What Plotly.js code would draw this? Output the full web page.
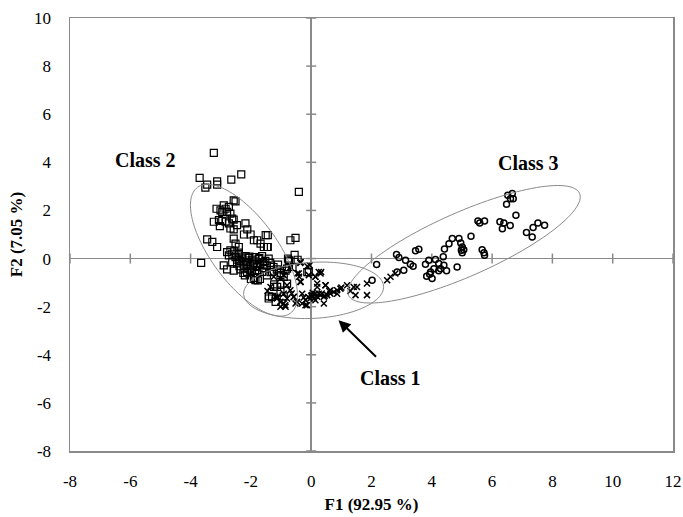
<!DOCTYPE html>
<html><head><meta charset="utf-8">
<script src="https://cdn.plot.ly/plotly-3.0.1.min.js"></script>
<style>html,body{margin:0;padding:0;background:#fff}#chart{width:683px;height:517px}</style>
</head><body><div id="chart"></div>
<script>
// Class 1 (x markers)
const class1X = [-0.69,-0.36,-0.05,-0.41,-0.36,-0.08,0.14,0.25,0.33,0.47,0.20,0.64,0.86,0.97,1.19,1.41,1.52,1.47,1.85,1.85,2.52,2.63,2.79,
 -0.91,-0.80,-1.02,-0.86,-0.58,-0.47,-0.30,-0.19,-0.14,0.03,0.09,0.20,0.31,0.42,0.53,0.64,0.75,0.86,-1.19,-1.14,-0.69,-0.80,-1.02,-0.91,-0.30,0.14,0.25,-0.03,0.14,
 -0.35,-0.13,-0.46,-0.40,-0.35,0.14,0.31,0.48,0.20,-0.91,-0.58,-0.52,-0.19,0.03,0.42,-2.07,-1.96,-1.24,-1.35,-1.13,-1.02,-0.85,
 0.00,0.10,-0.10,0.35,0.60,1.00,1.30,-0.25,0.05,0.45,-0.65,-1.45];
const class1Y = [-0.35,-0.18,-0.28,-0.62,-0.97,-0.69,-0.76,-0.56,-0.56,-1.11,-1.04,-1.32,-1.32,-1.25,-1.11,-1.18,-1.18,-1.52,-1.52,-1.04,-0.90,-0.76,-0.62,
 -1.46,-1.66,-1.80,-1.94,-1.59,-1.80,-1.87,-1.73,-1.94,-1.52,-1.66,-1.59,-1.52,-1.59,-1.52,-1.46,-1.39,-1.46,-1.59,-1.66,-1.32,-1.11,-0.83,-0.69,-1.46,-1.46,-1.46,-1.66,-1.73,
 -0.14,-0.32,-0.62,-0.76,-0.97,-0.76,-0.62,-1.11,-1.18,-1.87,-1.60,-1.87,-1.94,-1.60,-1.87,-0.69,-0.56,-0.76,-1.18,-1.60,-2.00,-2.00,
 -1.55,-1.50,-1.60,-1.45,-1.35,-1.20,-1.35,-1.62,-1.42,-1.55,-1.45,-1.35];
// Class 2 (squares)
const class2X = [-3.23,-3.70,-3.51,-3.45,-3.12,-3.12,-2.65,-2.32,-0.41,-3.65,
 -3.14,-3.01,-2.90,-2.84,-2.73,-2.57,-2.51,-2.95,-2.79,-2.68,-2.62,-2.57,-3.23,-3.06,-3.03,-2.95,-2.84,-2.73,-2.68,-2.57,-2.46,
 -2.18,-2.12,-2.23,-2.01,-1.90,-1.79,-1.51,-1.44,-1.68,-1.57,-1.44,-0.69,-0.52,-3.45,-3.28,-3.12,-2.57,-2.51,-2.40,-2.68,-2.79,
 -2.73,-2.62,-2.51,-2.40,-2.29,-2.18,-2.07,-1.96,-1.85,-1.74,-1.63,-1.52,-1.41,-2.62,-2.46,-2.35,-2.24,-2.13,-2.02,-1.91,-1.80,-1.69,-1.58,-1.47,-1.36,-1.25,-2.79,-2.57,-2.35,-2.13,-1.96,-1.80,-1.63,-1.47,-1.30,-1.14,-2.90,-2.20,-1.90,-2.00,-1.70,-1.10,-1.00,-0.85,-0.73,-0.62,-0.55,-0.45,
 -1.35,-1.77,-1.02,-0.91,-0.80,-0.74,-0.77,-1.23,-1.13,-1.02,-0.80,-1.40,-1.18,-0.91,-1.02,-0.13,
 -1.85,-1.46,-1.23,-1.41,-0.74,-0.08,-1.30,
 -2.45,-2.30,-2.15,-2.05,-1.88,-1.72,-1.55,-2.38,-2.22,-2.08,-1.92,-1.75,-1.60,-2.55,-2.40,-2.25];
const class2Y = [4.39,3.35,2.95,3.07,3.21,3.07,3.28,3.50,2.77,-0.18,
 2.07,2.00,2.21,2.07,2.15,2.42,2.38,1.94,1.94,1.87,1.66,1.62,1.53,1.60,1.35,1.57,1.53,1.46,1.25,1.21,1.39,
 1.46,1.21,1.00,1.00,0.76,0.76,0.97,0.97,0.62,0.48,0.48,0.76,0.86,0.80,0.69,0.48,0.83,0.62,0.48,0.34,0.27,
 0.13,0.20,0.06,0.13,0.00,0.10,0.03,-0.05,0.06,-0.02,0.10,-0.10,0.00,-0.15,-0.20,-0.10,-0.25,-0.15,-0.30,-0.20,-0.35,-0.22,-0.40,-0.30,-0.18,-0.35,-0.45,-0.50,-0.45,-0.55,-0.50,-0.60,-0.55,-0.70,-0.55,-0.45,-0.28,-0.70,-0.80,-0.85,-0.85,-0.25,-0.60,-0.50,-0.10,-0.35,0.15,-0.05,
 -0.56,-0.91,-0.69,-0.76,-0.42,-0.07,0.00,-1.07,-1.18,-1.04,-1.04,-1.57,-1.80,-1.57,-1.39,-0.56,
 -0.90,0.48,-1.18,-1.66,-0.35,-0.56,-1.59,
 -0.05,0.05,-0.08,0.08,-0.12,0.02,-0.25,-0.32,-0.38,-0.42,-0.28,-0.48,-0.15,0.30,0.25,-0.60];
// Class 3 (circles)
const class3X = [2.17,2.02,2.83,2.91,3.07,2.85,3.13,3.29,3.38,3.46,3.57,3.79,3.90,3.83,3.93,4.01,3.96,4.07,4.12,4.23,
 4.29,4.38,4.40,4.23,4.49,4.42,4.57,4.68,4.84,4.90,4.96,5.01,4.98,5.06,5.01,5.30,5.67,5.73,5.75,5.53,
 5.59,5.75,6.26,6.39,6.34,6.60,6.79,6.48,6.52,6.67,6.70,6.61,7.14,7.33,7.36,7.52,7.74];
const class3Y = [-0.25,-0.90,0.17,0.04,-0.49,-0.56,-0.07,-0.24,-0.32,0.32,0.39,-0.24,-0.07,-0.74,-0.65,-0.83,-0.56,-0.42,-0.04,-0.21,
 -0.42,0.07,-0.28,-0.51,-0.51,0.40,0.62,0.83,-0.35,0.83,0.65,0.48,0.35,0.37,0.24,0.93,0.37,0.24,0.14,1.56,
 1.48,1.56,1.53,1.48,1.24,1.37,1.80,2.26,2.63,2.70,2.49,2.49,1.08,0.90,1.29,1.48,1.38];

// Ellipses (center, semi-axis vectors, data units)
const ellNames = ["Class 1","Class 2","Class 3"];
const ellCx = [0.08,-2.23,5.07];
const ellCy = [-1.32,0.345,0.594];
const ellUx = [2.32,1.542,3.83];
const ellUy = [0.166,-2.616,2.118];
const ellVx = [0.053,0.879,0.428];
const ellVy = [-1.163,0.814,-1.217];

const xTicks = [-8,-6,-4,-2,0,2,4,6,8,10,12];
const yTicks = [-8,-6,-4,-2,0,2,4,6,8,10];

const labelText = ["Class 2","Class 3","Class 1"];
const labelX = [-5.5,7.2,2.63];
const labelY = [4.08,3.96,-4.97];

const gray = '#8a8a8a';
const mk = (sym, size, w) => ({symbol: sym, size: size, color: '#000', line: {color: '#000', width: w}});

const traces = [
  {x: class2X, y: class2Y, type: 'scatter', mode: 'markers', name: 'Class 2', marker: mk('square-open', 7, 1.2)},
  {x: class1X, y: class1Y, type: 'scatter', mode: 'markers', name: 'Class 1', marker: mk('x-thin-open', 6, 1.5)},
  {x: class3X, y: class3Y, type: 'scatter', mode: 'markers', name: 'Class 3', marker: mk('circle-open', 6, 1.5)}
];

const shapes = [];
for (let i = 0; i < ellCx.length; i++) {
  let p = '';
  for (let k = 0; k <= 120; k++) {
    const t = 2 * Math.PI * k / 120;
    const px = ellCx[i] + Math.cos(t) * ellUx[i] + Math.sin(t) * ellVx[i];
    const py = ellCy[i] + Math.cos(t) * ellUy[i] + Math.sin(t) * ellVy[i];
    p += (k === 0 ? 'M' : 'L') + px.toFixed(4) + ',' + py.toFixed(4);
  }
  shapes.push({type: 'path', xref: 'x', yref: 'y', path: p + 'Z', line: {color: gray, width: 1}, layer: 'above'});
}
xTicks.forEach(v => shapes.push({type: 'line', xref: 'x', yref: 'y', x0: v, x1: v, ysizemode: 'pixel', yanchor: 0, y0: -5, y1: 5, line: {color: gray, width: 1.5}, layer: 'below'}));
yTicks.forEach(v => shapes.push({type: 'line', yref: 'y', xref: 'x', y0: v, y1: v, xsizemode: 'pixel', xanchor: 0, x0: -5, x1: 5, line: {color: gray, width: 1.5}, layer: 'below'}));

const annotations = labelText.map((t, i) => ({x: labelX[i], y: labelY[i], xref: 'x', yref: 'y', text: '<b>' + t + '</b>', showarrow: false, font: {family: 'Liberation Serif', size: 20, color: '#000'}}));
annotations.push({x: 0.905, y: -2.56, ax: 2.2, ay: -4.14, axref: 'x', ayref: 'y', xref: 'x', yref: 'y', text: '', showarrow: true, arrowhead: 2, arrowsize: 1.2, arrowwidth: 2, arrowcolor: '#000'});

const layout = {
  width: 683, height: 517,
  margin: {l: 70, r: 10, t: 18, b: 66},
  paper_bgcolor: '#fff', plot_bgcolor: '#fff',
  showlegend: false,
  font: {family: 'Liberation Serif', size: 17, color: '#000'},
  xaxis: {range: [-8, 12], tickvals: xTicks, ticktext: xTicks.map(String), showgrid: false, zeroline: true, zerolinecolor: gray, zerolinewidth: 1.5,
          showline: true, mirror: true, linecolor: gray, linewidth: 1.5, ticks: '', ticklabelstandoff: 14,
          tickfont: {family: 'Liberation Serif', size: 17, color: '#000'},
          title: {text: '<b>F1 (92.95 %)</b>', font: {family: 'Liberation Serif', size: 17}, standoff: 8}},
  yaxis: {range: [-8, 10], tickvals: yTicks, ticktext: yTicks.map(String), showgrid: false, zeroline: true, zerolinecolor: gray, zerolinewidth: 1.5,
          showline: true, mirror: true, linecolor: gray, linewidth: 1.5, ticks: '', ticklabelstandoff: 14,
          tickfont: {family: 'Liberation Serif', size: 17, color: '#000'},
          title: {text: '<b>F2 (7.05 %)</b>', font: {family: 'Liberation Serif', size: 17}, standoff: 7}},
  shapes: shapes,
  annotations: annotations
};
Plotly.newPlot('chart', traces, layout, {displayModeBar: false, staticPlot: true});
</script></body></html>
